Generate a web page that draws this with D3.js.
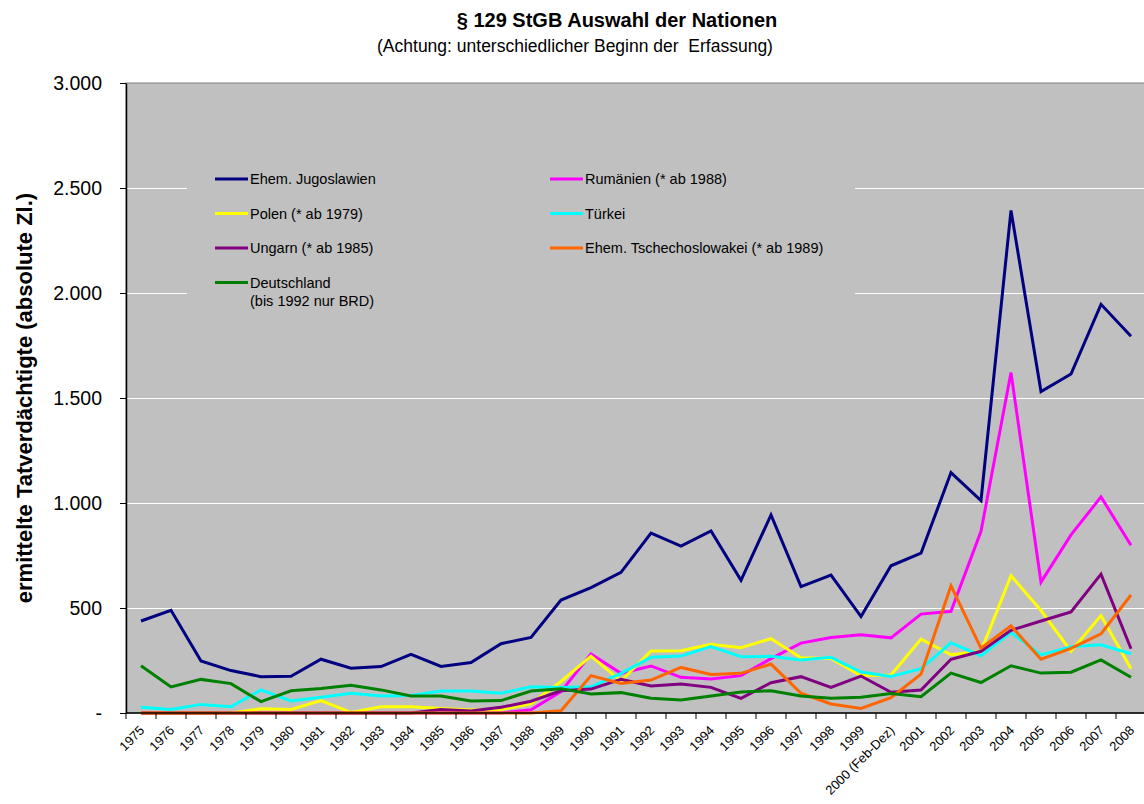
<!DOCTYPE html>
<html>
  <head>
    <script src="https://d3js.org/d3.v7.min.js"></script>
    <style>
      body { margin: 0; background: #fff; }
      text { font-family: "Liberation Sans", Arial, sans-serif; }
    </style>
  </head>
  <body>
    <script>
      // categories (years), 2000 only Feb-Dez
      var years = ["1975", "1976", "1977", "1978", "1979", "1980", "1981", "1982", "1983", "1984",
                   "1985", "1986", "1987", "1988", "1989", "1990", "1991", "1992", "1993", "1994",
                   "1995", "1996", "1997", "1998", "1999", "2000 (Feb-Dez)", "2001", "2002", "2003",
                   "2004", "2005", "2006", "2007", "2008"];

      // series values (absolute Zahlen)
      var jugoslawien = [438, 489, 248, 202, 173, 175, 256, 213, 221, 279, 222, 240, 330, 360, 538, 597, 670,
                         857, 795, 867, 632, 943, 602, 657, 459, 701, 761, 1145, 1012, 2393, 1531, 1614, 1946, 1794];
      var rumaenien = [0, 0, 0, 0, 0, 0, 0, 0, 0, 0, 0, 0, 0, 15, 102, 281, 189,
                       224, 170, 162, 178, 259, 333, 359, 373, 358, 471, 484, 865, 1621, 623, 848, 1029, 799];
      var polen = [0, 0, 0, 0, 20, 17, 59, 3, 30, 30, 21, 14, 17, 44, 150, 271, 152,
                   295, 297, 327, 311, 354, 263, 260, 178, 181, 352, 277, 294, 654, 488, 294, 464, 211];
      var tuerkei = [27, 17, 41, 30, 110, 57, 75, 94, 81, 83, 105, 105, 94, 125, 122, 125, 189,
                     265, 271, 316, 268, 270, 252, 265, 195, 174, 211, 334, 273, 384, 277, 315, 325, 282];
      var ungarn = [0, 0, 0, 0, 0, 0, 0, 0, 0, 0, 17, 10, 27, 56, 106, 114, 160,
                    129, 138, 122, 70, 144, 173, 122, 176, 99, 109, 256, 294, 394, 438, 481, 661, 306];
      var tschechoslowakei = [0, 0, 0, 0, 0, 0, 0, 0, 0, 0, 0, 0, 0, 0, 11, 178, 141,
                              157, 217, 183, 189, 233, 94, 43, 22, 73, 185, 606, 308, 415, 256, 308, 377, 562];
      var deutschland = [225, 124, 160, 140, 54, 106, 117, 132, 110, 81, 81, 57, 59, 105, 116, 90, 97,
                         70, 62, 81, 100, 106, 81, 70, 75, 93, 78, 190, 145, 225, 190, 194, 253, 170];

      var yTicks = [0, 500, 1000, 1500, 2000, 2500, 3000];

      // drawing order (orange above the zero lines, green on top)
      var series = [
        {name: "Ehem. Jugoslawien", values: jugoslawien, color: "#000080"},
        {name: "Rumänien (* ab 1988)", values: rumaenien, color: "#ff00ff"},
        {name: "Polen (* ab 1979)", values: polen, color: "#ffff00"},
        {name: "Türkei", values: tuerkei, color: "#00ffff"},
        {name: "Ungarn (* ab 1985)", values: ungarn, color: "#800080"},
        {name: "Ehem. Tschechoslowakei (* ab 1989)", values: tschechoslowakei, color: "#ff6600"},
        {name: "Deutschland", values: deutschland, color: "#008000"}
      ];

      var W = 1144, H = 804;
      var plot = {left: 126, top: 83, right: 1146, bottom: 713};

      var svg = d3.select("body").append("svg")
          .attr("width", W)
          .attr("height", H);

      var x = d3.scaleBand()
          .domain(years)
          .range([plot.left, plot.right])
          .padding(0);
      var y = d3.scaleLinear()
          .domain([0, 3000])
          .range([plot.bottom, plot.top]);

      var de = d3.formatLocale({decimal: ",", thousands: ".", grouping: [3], currency: ["", ""]});
      var fmt = de.format(",.0f");

      // plot area
      svg.append("rect")
          .attr("x", plot.left)
          .attr("y", plot.top)
          .attr("width", plot.right - plot.left)
          .attr("height", plot.bottom - plot.top)
          .attr("fill", "#c0c0c0")
          .attr("stroke", "#808080")
          .attr("stroke-width", 1);

      // gridlines
      svg.append("g").selectAll("line")
          .data(yTicks.filter(function(d) { return d > 0 && d < 3000; }))
        .enter().append("line")
          .attr("x1", plot.left)
          .attr("x2", plot.right)
          .attr("y1", function(d) { return Math.round(y(d)) + 0.5; })
          .attr("y2", function(d) { return Math.round(y(d)) + 0.5; })
          .attr("stroke", "#ffffff")
          .attr("stroke-width", 1);

      // legend box (covers gridlines)
      var legend = svg.append("g");
      legend.append("rect")
          .attr("x", 187)
          .attr("y", 158)
          .attr("width", 668)
          .attr("height", 156)
          .attr("fill", "#c0c0c0");

      var legendItems = [
        {s: 0, col: 0, row: 0}, {s: 1, col: 1, row: 0},
        {s: 2, col: 0, row: 1}, {s: 3, col: 1, row: 1},
        {s: 4, col: 0, row: 2}, {s: 5, col: 1, row: 2},
        {s: 6, col: 0, row: 3}
      ];
      legendItems.forEach(function(it) {
        var lx = it.col === 0 ? 215 : 550;
        var ly = 179 + it.row * 34.5;
        var sr = series[it.s];
        legend.append("line")
            .attr("x1", lx).attr("x2", lx + 33)
            .attr("y1", ly).attr("y2", ly)
            .attr("stroke", sr.color)
            .attr("stroke-width", 3);
        legend.append("text")
            .attr("x", lx + 35)
            .attr("y", ly + 5)
            .attr("font-size", "14.5px")
            .attr("fill", "#000")
            .text(sr.name);
        if (it.s === 6) {
          legend.append("text")
              .attr("x", lx + 35)
              .attr("y", ly + 23)
              .attr("font-size", "14.5px")
              .attr("fill", "#000")
              .text("(bis 1992 nur BRD)");
        }
      });

      // lines
      var line = d3.line()
          .x(function(d, i) { return x(years[i]) + x.bandwidth() / 2; })
          .y(function(d) { return y(d); });

      svg.append("g").selectAll("path")
          .data(series)
        .enter().append("path")
          .attr("d", function(d) { return line(d.values); })
          .attr("fill", "none")
          .attr("stroke", function(d) { return d.color; })
          .attr("stroke-width", 3)
          .attr("stroke-linejoin", "miter");

      // y axis
      var yAxis = svg.append("g")
          .attr("transform", "translate(" + plot.left + ",0)")
          .call(d3.axisLeft(y)
            .tickValues(yTicks)
            .tickSize(6)
            .tickSizeOuter(0)
            .tickPadding(18)
            .tickFormat(function(d) { return d === 0 ? "-" : fmt(d); }));
      yAxis.select(".domain").attr("stroke", "#000").attr("stroke-width", 1.5);
      yAxis.selectAll(".tick line").attr("stroke", "#000");
      yAxis.selectAll("text")
          .attr("font-size", "19.5px")
          .attr("font-family", "'Liberation Sans', Arial, sans-serif")
          .attr("fill", "#000");

      // x axis: ticks on category borders, labels rotated
      var xAxis = svg.append("g");
      xAxis.append("line")
          .attr("x1", plot.left).attr("x2", plot.right)
          .attr("y1", plot.bottom).attr("y2", plot.bottom)
          .attr("stroke", "#000")
          .attr("stroke-width", 1.5);
      xAxis.selectAll(".xtick")
          .data(years)
        .enter().append("line")
          .attr("class", "xtick")
          .attr("x1", function(d) { return x(d); })
          .attr("x2", function(d) { return x(d); })
          .attr("y1", plot.bottom)
          .attr("y2", plot.bottom + 6)
          .attr("stroke", "#000");
      xAxis.selectAll(".xlabel")
          .data(years)
        .enter().append("text")
          .attr("class", "xlabel")
          .attr("transform", function(d) {
            return "translate(" + (x(d) + x.bandwidth() / 2 + 1) + "," + (plot.bottom + 15) + ") rotate(-45)";
          })
          .attr("text-anchor", "end")
          .attr("dy", "0.35em")
          .attr("font-size", "13px")
          .attr("fill", "#000")
          .text(function(d) { return d; });

      // titles
      svg.append("text")
          .attr("x", 617)
          .attr("y", 27)
          .attr("text-anchor", "middle")
          .attr("font-size", "20px")
          .attr("font-weight", "bold")
          .text("§ 129 StGB Auswahl der Nationen");
      svg.append("text")
          .attr("x", 575)
          .attr("y", 52)
          .attr("text-anchor", "middle")
          .attr("font-size", "17.5px")
          .attr("xml:space", "preserve")
          .text("(Achtung: unterschiedlicher Beginn der  Erfassung)");

      svg.append("text")
          .attr("transform", "translate(32," + ((plot.top + plot.bottom) / 2) + ") rotate(-90)")
          .attr("text-anchor", "middle")
          .attr("font-size", "22px")
          .attr("font-weight", "bold")
          .text("ermittelte Tatverdächtigte (absolute Zl.)");
    </script>
  </body>
</html>
